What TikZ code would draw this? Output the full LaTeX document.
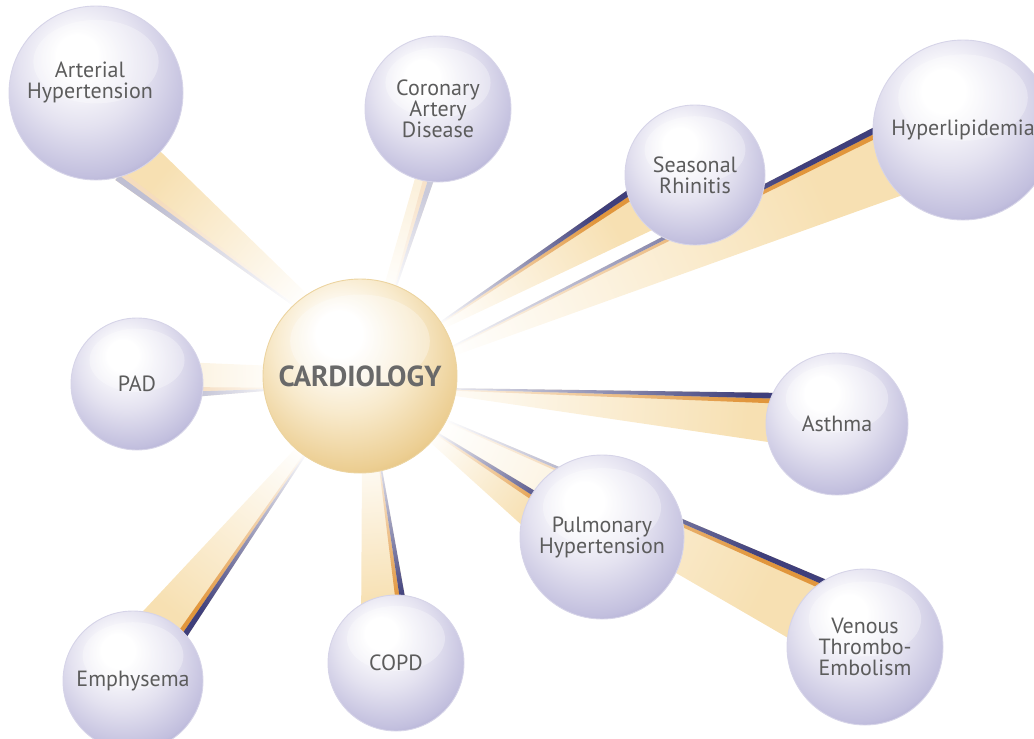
\documentclass[tikz,border=0pt]{standalone}
\usepackage{fontspec}
\setmainfont{PT Sans}
\usetikzlibrary{calc}

\definecolor{textgray}{RGB}{92,92,92}
\definecolor{cardiogray}{RGB}{105,105,105}
\definecolor{raycream}{RGB}{247,224,178}
\definecolor{raynavy}{RGB}{42,42,108}
\definecolor{rayorange}{RGB}{222,138,38}
\definecolor{pearlA}{RGB}{228,226,240}
\definecolor{pearlB}{RGB}{194,191,222}
\definecolor{pearlC}{RGB}{140,135,186}
\definecolor{pearlD}{RGB}{92,87,146}
\definecolor{pearlrim}{RGB}{214,212,232}
\definecolor{goldA}{RGB}{248,234,204}
\definecolor{goldB}{RGB}{236,206,146}
\definecolor{goldC}{RGB}{212,170,90}
\definecolor{goldD}{RGB}{180,134,52}
\definecolor{goldrim}{RGB}{236,212,160}
\colorlet{rayend}{raycream}

\pgfdeclareradialshading{pearl}{\pgfpoint{-6bp}{12bp}}{color(0bp)=(white); color(6bp)=(white); color(18bp)=(pearlA); color(30bp)=(pearlB); color(40bp)=(pearlC); color(50bp)=(pearlD); color(60bp)=(pearlD)}
\pgfdeclareradialshading{goldpearl}{\pgfpoint{-6bp}{12bp}}{color(0bp)=(white); color(6bp)=(white); color(18bp)=(goldA); color(30bp)=(goldB); color(40bp)=(goldC); color(50bp)=(goldD); color(60bp)=(goldD)}
\pgfdeclarehorizontalshading[rayend]{rayfade}{100bp}{color(0bp)=(white); color(18bp)=(white); color(70bp)=(rayend); color(100bp)=(rayend)}

\pgfdeclarelayer{rays}
\pgfsetlayers{rays,main}

\newcommand{\spherefont}{\fontsize{22}{21}\selectfont}
\newcommand{\cardiofont}{\fontsize{29}{30}\selectfont\bfseries}

% ray from cardio to #1: near shift, far shift, near/far half width, cream, stripe, side
\newcommand{\ray}[8]{%
  \coordinate (rayN) at ($(cardio)+(#2)$);
  \coordinate (rayF) at ($(#1)+(#3)$);
  \pgfmathanglebetweenpoints{\pgfpointanchor{rayN}{center}}{\pgfpointanchor{rayF}{center}}%
  \let\rayang\pgfmathresult
  \pgfmathsetmacro\rayrot{90*#8}%
  \pgfmathsetmacro\rayback{-90*#8}%
  \pgfmathsetmacro\navyN{#4-1.2}\pgfmathsetmacro\navyF{#5-6}%
  \pgfmathsetmacro\orngN{#4-2.2}\pgfmathsetmacro\orngF{#5-11}%
  \colorlet{rayend}{raycream!#6!white}%
  \shade[shading=rayfade, shading angle=\rayang]
    ($(rayN)!#4pt!\rayrot:(rayF)$) -- ($(rayF)!#5pt!\rayback:(rayN)$)
    -- ($(rayF)!#5pt!\rayrot:(rayN)$) -- ($(rayN)!#4pt!\rayback:(rayF)$) -- cycle;
  \colorlet{rayend}{rayorange!#7!white}%
  \shade[shading=rayfade, shading angle=\rayang]
    ($(rayN)!\navyN pt!\rayrot:(rayF)$) -- ($(rayF)!\navyF pt!\rayback:(rayN)$)
    -- ($(rayF)!\orngF pt!\rayback:(rayN)$) -- ($(rayN)!\orngN pt!\rayrot:(rayF)$) -- cycle;
  \colorlet{rayend}{raynavy!#7!white}%
  \shade[shading=rayfade, shading angle=\rayang]
    ($(rayN)!#4pt!\rayrot:(rayF)$) -- ($(rayF)!#5pt!\rayback:(rayN)$)
    -- ($(rayF)!\navyF pt!\rayback:(rayN)$) -- ($(rayN)!\navyN pt!\rayrot:(rayF)$) -- cycle;
}

\tikzset{
  orb/.style={circle, inner sep=0pt, minimum size={2*#1pt}, shade, shading=pearl,
    draw=pearlrim, line width=0.9pt, text=textgray, align=center, font=\spherefont,
    path picture={\fill[white, opacity=.3] ([yshift={0.36*#1pt}]path picture bounding box.center)
      ellipse [x radius={0.72*#1pt}, y radius={0.48*#1pt}];}},
  goldorb/.style={orb=#1, shading=goldpearl, draw=goldrim, text=cardiogray, font=\cardiofont}
}

\begin{document}
\begin{tikzpicture}[x=1pt, y=-1pt]
  \useasboundingbox (0,0) rectangle (1034,739);

  % spheres
  \node[goldorb=97] (cardio) at (360,376) {CARDIOLOGY};
  \node[orb=87, label={[text=textgray, font=\spherefont, align=center, yshift=11pt, xshift=-6pt]center:Arterial\\Hypertension}]
    (arterial) at (96,93) {};
  \node[orb=73] (coronary) at (438,109) {Coronary\\Artery\\Disease};
  \node[orb=70] (seasonal) at (695,175) {Seasonal\\Rhinitis};
  \node[orb=90] (hyper) at (963,130) {Hyperlipidemia};
  \node[orb=66] (pad) at (137,384) {PAD};
  \node[orb=71] (asthma) at (837,424) {Asthma};
  \node[orb=82] (pulmo) at (602,537) {Pulmonary\\Hypertension};
  \node[orb=78] (venous) at (865,647) {Venous\\Thrombo-\\Embolism};
  \node[orb=68] (copd) at (396,663) {COPD};
  \node[orb=70] (emph) at (133,681) {Emphysema};

  % rays behind the spheres
  \begin{pgfonlayer}{rays}
    \ray{arterial}{-50,-68}{36,67}{8}{26}{100}{30}{1}
    \ray{coronary}{28,-82}{-11,62}{6}{9.5}{45}{25}{-1}
    \ray{hyper}{79,-19}{-72,30}{4}{37}{100}{90}{1}
    \ray{seasonal}{72,-45}{-50,32}{3}{24}{100}{90}{1}
    \ray{pad}{-83,2}{43,-4}{12}{18}{40}{30}{1}
    \ray{asthma}{82,15}{-47,-5}{3}{26}{100}{90}{1}
    \ray{venous}{70,45}{-38,-28}{8}{36}{100}{90}{1}
    \ray{pulmo}{64,54}{-54,-15}{5}{20}{100}{75}{1}
    \ray{copd}{11,82}{-11,-42}{9}{24}{100}{90}{1}
    \ray{emph}{-50,64}{19,-40}{5}{27}{100}{90}{1}
  \end{pgfonlayer}
\end{tikzpicture}
\end{document}
